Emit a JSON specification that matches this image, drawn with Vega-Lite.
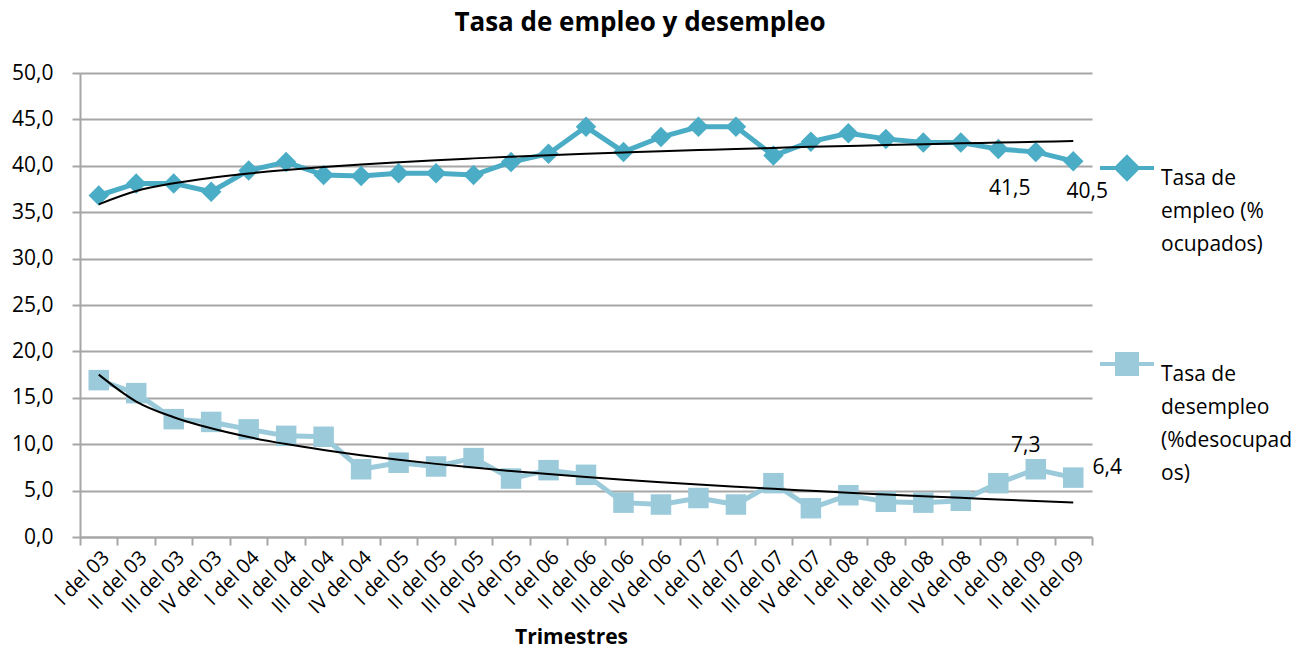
{
  "$schema": "https://vega.github.io/schema/vega-lite/v6.json",
  "width": 1012,
  "height": 464,
  "autosize": {"type": "none"},
  "padding": {"left": 80, "top": 73, "right": 223, "bottom": 111},
  "background": "white",
  "config": {"font": "Open Sans", "view": {"stroke": null}, "style": {"guide-label": {"lineHeight": 33}}},
  "title": {"text": "Tasa de empleo y desempleo", "fontSize": 26, "fontWeight": "bold", "font": "Open Sans", "color": "black", "anchor": "middle", "dx": 54, "offset": 26},
  "data": {"values": [
    {"t": "I del 03", "s": "Tasa de empleo (% ocupados)", "v": 36.8, "tr": 35.85, "lab": null},
    {"t": "II del 03", "s": "Tasa de empleo (% ocupados)", "v": 38.1, "tr": 37.28, "lab": null},
    {"t": "III del 03", "s": "Tasa de empleo (% ocupados)", "v": 38.1, "tr": 38.12, "lab": null},
    {"t": "IV del 03", "s": "Tasa de empleo (% ocupados)", "v": 37.2, "tr": 38.71, "lab": null},
    {"t": "I del 04", "s": "Tasa de empleo (% ocupados)", "v": 39.5, "tr": 39.18, "lab": null},
    {"t": "II del 04", "s": "Tasa de empleo (% ocupados)", "v": 40.4, "tr": 39.55, "lab": null},
    {"t": "III del 04", "s": "Tasa de empleo (% ocupados)", "v": 39.0, "tr": 39.87, "lab": null},
    {"t": "IV del 04", "s": "Tasa de empleo (% ocupados)", "v": 38.9, "tr": 40.15, "lab": null},
    {"t": "I del 05", "s": "Tasa de empleo (% ocupados)", "v": 39.2, "tr": 40.39, "lab": null},
    {"t": "II del 05", "s": "Tasa de empleo (% ocupados)", "v": 39.2, "tr": 40.61, "lab": null},
    {"t": "III del 05", "s": "Tasa de empleo (% ocupados)", "v": 39.0, "tr": 40.80, "lab": null},
    {"t": "IV del 05", "s": "Tasa de empleo (% ocupados)", "v": 40.4, "tr": 40.98, "lab": null},
    {"t": "I del 06", "s": "Tasa de empleo (% ocupados)", "v": 41.3, "tr": 41.15, "lab": null},
    {"t": "II del 06", "s": "Tasa de empleo (% ocupados)", "v": 44.2, "tr": 41.30, "lab": null},
    {"t": "III del 06", "s": "Tasa de empleo (% ocupados)", "v": 41.5, "tr": 41.44, "lab": null},
    {"t": "IV del 06", "s": "Tasa de empleo (% ocupados)", "v": 43.1, "tr": 41.58, "lab": null},
    {"t": "I del 07", "s": "Tasa de empleo (% ocupados)", "v": 44.2, "tr": 41.70, "lab": null},
    {"t": "II del 07", "s": "Tasa de empleo (% ocupados)", "v": 44.2, "tr": 41.82, "lab": null},
    {"t": "III del 07", "s": "Tasa de empleo (% ocupados)", "v": 41.1, "tr": 41.93, "lab": null},
    {"t": "IV del 07", "s": "Tasa de empleo (% ocupados)", "v": 42.6, "tr": 42.04, "lab": null},
    {"t": "I del 08", "s": "Tasa de empleo (% ocupados)", "v": 43.5, "tr": 42.14, "lab": null},
    {"t": "II del 08", "s": "Tasa de empleo (% ocupados)", "v": 42.9, "tr": 42.24, "lab": null},
    {"t": "III del 08", "s": "Tasa de empleo (% ocupados)", "v": 42.5, "tr": 42.33, "lab": null},
    {"t": "IV del 08", "s": "Tasa de empleo (% ocupados)", "v": 42.5, "tr": 42.42, "lab": null},
    {"t": "I del 09", "s": "Tasa de empleo (% ocupados)", "v": 41.8, "tr": 42.50, "lab": null},
    {"t": "II del 09", "s": "Tasa de empleo (% ocupados)", "v": 41.5, "tr": 42.58, "lab": "41,5"},
    {"t": "III del 09", "s": "Tasa de empleo (% ocupados)", "v": 40.5, "tr": 42.66, "lab": "40,5"},
    {"t": "I del 03", "s": "Tasa de desempleo (%desocupados)", "v": 16.9, "tr": 17.5, "lab": null},
    {"t": "II del 03", "s": "Tasa de desempleo (%desocupados)", "v": 15.5, "tr": 14.6, "lab": null},
    {"t": "III del 03", "s": "Tasa de desempleo (%desocupados)", "v": 12.7, "tr": 12.91, "lab": null},
    {"t": "IV del 03", "s": "Tasa de desempleo (%desocupados)", "v": 12.4, "tr": 11.71, "lab": null},
    {"t": "I del 04", "s": "Tasa de desempleo (%desocupados)", "v": 11.6, "tr": 10.77, "lab": null},
    {"t": "II del 04", "s": "Tasa de desempleo (%desocupados)", "v": 10.9, "tr": 10.01, "lab": null},
    {"t": "III del 04", "s": "Tasa de desempleo (%desocupados)", "v": 10.8, "tr": 9.37, "lab": null},
    {"t": "IV del 04", "s": "Tasa de desempleo (%desocupados)", "v": 7.3, "tr": 8.81, "lab": null},
    {"t": "I del 05", "s": "Tasa de desempleo (%desocupados)", "v": 8.0, "tr": 8.32, "lab": null},
    {"t": "II del 05", "s": "Tasa de desempleo (%desocupados)", "v": 7.6, "tr": 7.88, "lab": null},
    {"t": "III del 05", "s": "Tasa de desempleo (%desocupados)", "v": 8.5, "tr": 7.48, "lab": null},
    {"t": "IV del 05", "s": "Tasa de desempleo (%desocupados)", "v": 6.3, "tr": 7.11, "lab": null},
    {"t": "I del 06", "s": "Tasa de desempleo (%desocupados)", "v": 7.2, "tr": 6.78, "lab": null},
    {"t": "II del 06", "s": "Tasa de desempleo (%desocupados)", "v": 6.7, "tr": 6.47, "lab": null},
    {"t": "III del 06", "s": "Tasa de desempleo (%desocupados)", "v": 3.7, "tr": 6.18, "lab": null},
    {"t": "IV del 06", "s": "Tasa de desempleo (%desocupados)", "v": 3.5, "tr": 5.91, "lab": null},
    {"t": "I del 07", "s": "Tasa de desempleo (%desocupados)", "v": 4.2, "tr": 5.66, "lab": null},
    {"t": "II del 07", "s": "Tasa de desempleo (%desocupados)", "v": 3.5, "tr": 5.42, "lab": null},
    {"t": "III del 07", "s": "Tasa de desempleo (%desocupados)", "v": 5.8, "tr": 5.19, "lab": null},
    {"t": "IV del 07", "s": "Tasa de desempleo (%desocupados)", "v": 3.1, "tr": 4.98, "lab": null},
    {"t": "I del 08", "s": "Tasa de desempleo (%desocupados)", "v": 4.5, "tr": 4.77, "lab": null},
    {"t": "II del 08", "s": "Tasa de desempleo (%desocupados)", "v": 3.8, "tr": 4.58, "lab": null},
    {"t": "III del 08", "s": "Tasa de desempleo (%desocupados)", "v": 3.7, "tr": 4.39, "lab": null},
    {"t": "IV del 08", "s": "Tasa de desempleo (%desocupados)", "v": 3.9, "tr": 4.22, "lab": null},
    {"t": "I del 09", "s": "Tasa de desempleo (%desocupados)", "v": 5.8, "tr": 4.05, "lab": null},
    {"t": "II del 09", "s": "Tasa de desempleo (%desocupados)", "v": 7.3, "tr": 3.88, "lab": "7,3"},
    {"t": "III del 09", "s": "Tasa de desempleo (%desocupados)", "v": 6.4, "tr": 3.72, "lab": "6,4"}
  ]},
  "encoding": {
    "x": {
      "field": "t", "type": "ordinal", "sort": null, "bandPosition": 0.5,
      "scale": {"type": "band", "paddingInner": 0, "paddingOuter": 0},
      "axis": {
        "title": "Trimestres", "titleFontSize": 21, "titleFontWeight": "bold", "titleColor": "black",
        "titleX": 491, "titleY": 106, "titleBaseline": "alphabetic", "titleAlign": "center", "titleAnchor": null,
        "labelAngle": -45, "labelFontSize": 20, "labelColor": "black", "labelPadding": 2,
        "tickBand": "extent", "tickSize": 8, "tickColor": "#a6a6a6", "tickWidth": 2,
        "domainColor": "#a6a6a6", "domainWidth": 2, "grid": false
      }
    },
    "y": {"field": "v", "type": "quantitative", "scale": {"domain": [0, 50], "nice": false},
      "axis": {"title": null, "values": [0, 5, 10, 15, 20, 25, 30, 35, 40, 45, 50],
        "labelExpr": "replace(format(datum.value, '.1f'), '.', ',')",
        "labelFontSize": 21, "labelColor": "black", "labelPadding": 19,
        "tickSize": 8, "tickColor": "#a6a6a6", "tickWidth": 2,
        "domainColor": "#a6a6a6", "domainWidth": 2, "gridColor": "#a6a6a6", "gridWidth": 2}}
  },
  "layer": [
    {
      "transform": [{"filter": "false"}],
      "mark": {"type": "point", "filled": true, "opacity": 1, "strokeWidth": 4},
      "encoding": {
        "color": {"field": "s", "type": "nominal",
          "scale": {"domain": ["Tasa de empleo (% ocupados)", "Tasa de desempleo (%desocupados)"], "range": ["#4BACC6", "#9BCBDB"]},
          "legend": {
            "title": null, "orient": "none", "legendX": 1018, "legendY": 66,
            "labelExpr": "datum.label == 'Tasa de empleo (% ocupados)' ? ['Tasa de', 'empleo (%', 'ocupados)'] : ['Tasa de', 'desempleo', '(%desocupad', 'os)']",
            "labelFontSize": 21, "labelColor": "black", "labelLimit": 0, "labelBaseline": "top", "labelOffset": 5,
            "rowPadding": 80, "symbolSize": 2916, "symbolStrokeWidth": 4
          }},
        "stroke": {"field": "s", "type": "nominal",
          "scale": {"domain": ["Tasa de empleo (% ocupados)", "Tasa de desempleo (%desocupados)"], "range": ["#4BACC6", "#9BCBDB"]}},
        "shape": {"field": "s", "type": "nominal",
          "scale": {"domain": ["Tasa de empleo (% ocupados)", "Tasa de desempleo (%desocupados)"],
            "range": ["M-1,0L1,0M0,-0.4L0.4,0L0,0.4L-0.4,0Z", "M-1,0L1,0M-0.37,-0.37L0.37,-0.37L0.37,0.37L-0.37,0.37Z"]}}
      }
    },
    {
      "mark": {"type": "line", "strokeWidth": 5},
      "encoding": {
        "color": {"field": "s", "type": "nominal"}
      }
    },
    {
      "transform": [{"filter": "datum.s == 'Tasa de empleo (% ocupados)'"}],
      "mark": {"type": "point", "filled": true, "opacity": 1, "size": 420, "shape": "diamond", "color": "#4BACC6"}
    },
    {
      "transform": [{"filter": "datum.s == 'Tasa de desempleo (%desocupados)'"}],
      "mark": {"type": "point", "filled": true, "opacity": 1, "size": 420, "shape": "square", "color": "#9BCBDB"}
    },
    {
      "mark": {"type": "line", "strokeWidth": 2, "color": "black", "interpolate": "monotone"},
      "encoding": {
        "y": {"field": "tr", "type": "quantitative"},
        "detail": {"field": "s", "type": "nominal"}
      }
    },
    {
      "transform": [{"filter": "datum.t == 'II del 09' && datum.s == 'Tasa de empleo (% ocupados)'"}],
      "mark": {"type": "text", "fontSize": 21, "color": "black", "dx": -26, "dy": 37},
      "encoding": {"text": {"field": "lab"}}
    },
    {
      "transform": [{"filter": "datum.t == 'III del 09' && datum.s == 'Tasa de empleo (% ocupados)'"}],
      "mark": {"type": "text", "fontSize": 21, "color": "black", "dx": 14, "dy": 31},
      "encoding": {"text": {"field": "lab"}}
    },
    {
      "transform": [{"filter": "datum.t == 'II del 09' && datum.s == 'Tasa de desempleo (%desocupados)'"}],
      "mark": {"type": "text", "fontSize": 21, "color": "black", "dx": -10, "dy": -23},
      "encoding": {"text": {"field": "lab"}}
    },
    {
      "transform": [{"filter": "datum.t == 'III del 09' && datum.s == 'Tasa de desempleo (%desocupados)'"}],
      "mark": {"type": "text", "fontSize": 21, "color": "black", "dx": 34, "dy": -10},
      "encoding": {"text": {"field": "lab"}}
    }
  ]
}
